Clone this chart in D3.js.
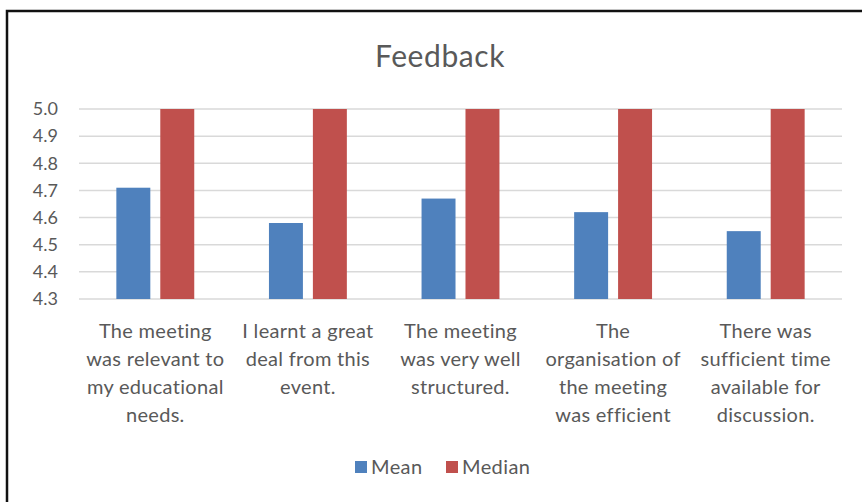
<!DOCTYPE html>
<html>
<head>
<meta charset="utf-8">
<script src="https://cdn.jsdelivr.net/npm/d3@7"></script>
<style>
  body { margin: 0; background: #fff; }
  text { font-family: Lato, "Open Sans", sans-serif; fill: #595959; }
</style>
</head>
<body>
<script>
var width = 862,
    height = 502;

var categories = [
    ["The meeting", "was relevant to", "my educational", "needs."],
    ["I learnt a great", "deal from this", "event."],
    ["The meeting", "was very well", "structured."],
    ["The", "organisation of", "the meeting", "was efficient"],
    ["There was", "sufficient time", "available for", "discussion."]
];
var meanValues = [4.71, 4.58, 4.67, 4.62, 4.55];
var medianValues = [5, 5, 5, 5, 5];
var seriesNames = ["Mean", "Median"];
var seriesColors = ["#4f81bd", "#c0504d"];
var yTicks = [4.3, 4.4, 4.5, 4.6, 4.7, 4.8, 4.9, 5.0];

var margin = {top: 109, right: 20, bottom: 203, left: 79};

var svg = d3.select("body").append("svg")
    .attr("width", width)
    .attr("height", height);

// outer frame (only top and left edges show)
svg.append("rect")
    .attr("x", 7).attr("y", 11)
    .attr("width", width + 20).attr("height", height + 20)
    .attr("fill", "none")
    .attr("stroke", "#111")
    .attr("stroke-width", 2.5);

var x0 = d3.scaleBand()
    .domain(d3.range(categories.length))
    .range([margin.left, width - margin.right]);

var x1 = d3.scaleBand()
    .domain(seriesNames)
    .range([0, x0.bandwidth()])
    .paddingInner(0.227)
    .paddingOuter(0.85);

var y = d3.scaleLinear()
    .domain([4.3, 5.0])
    .range([height - margin.bottom, margin.top]);

// gridlines
svg.append("g").selectAll("line")
    .data(yTicks)
    .enter().append("line")
    .attr("x1", margin.left)
    .attr("x2", width - margin.right)
    .attr("y1", function(d) { return y(d); })
    .attr("y2", function(d) { return y(d); })
    .attr("stroke", "#d9d9d9")
    .attr("stroke-width", 1.5);

// y tick labels
svg.append("g").selectAll("text")
    .data(yTicks)
    .enter().append("text")
    .attr("x", 58)
    .attr("y", function(d) { return y(d); })
    .attr("dy", "0.35em")
    .attr("text-anchor", "end")
    .style("font-size", "18px")
    .text(function(d) { return d.toFixed(1); });

// bars
var rows = categories.map(function(c, i) {
    return [
        {key: "Mean", i: i, value: meanValues[i]},
        {key: "Median", i: i, value: medianValues[i]}
    ];
});

var group = svg.append("g").selectAll("g")
    .data(rows)
    .enter().append("g")
    .attr("transform", function(d, i) { return "translate(" + x0(i) + ",0)"; });

group.selectAll("rect")
    .data(function(d) { return d; })
    .enter().append("rect")
    .attr("x", function(d) { return x1(d.key); })
    .attr("width", x1.bandwidth())
    .attr("y", function(d) { return y(d.value); })
    .attr("height", function(d) { return y(4.3) - y(d.value); })
    .attr("fill", function(d) { return seriesColors[seriesNames.indexOf(d.key)]; });

// category labels
var labels = svg.append("g").selectAll("text")
    .data(categories)
    .enter().append("text")
    .attr("x", function(d, i) { return x0(i) + x0.bandwidth() / 2; })
    .attr("y", 338)
    .attr("text-anchor", "middle")
    .style("font-size", "20px")
    .style("letter-spacing", "0.3px");

labels.selectAll("tspan")
    .data(function(d) { return d; })
    .enter().append("tspan")
    .attr("x", function() { return d3.select(this.parentNode).attr("x"); })
    .attr("dy", function(d, j) { return j === 0 ? 0 : 28; })
    .text(function(d) { return d; });

// title
svg.append("text")
    .attr("x", 440)
    .attr("y", 67)
    .attr("text-anchor", "middle")
    .style("font-size", "30px")
    .style("letter-spacing", "0.6px")
    .text("Feedback");

// legend
var legendX = [355, 446];
var legend = svg.append("g").selectAll("g")
    .data(seriesNames)
    .enter().append("g")
    .attr("transform", function(d, i) { return "translate(" + legendX[i] + ",461)"; });

legend.append("rect")
    .attr("width", 12).attr("height", 12)
    .attr("fill", function(d, i) { return seriesColors[i]; });

legend.append("text")
    .attr("x", 16)
    .attr("y", 6)
    .attr("dy", "0.35em")
    .style("font-size", "20px")
    .style("letter-spacing", "0.4px")
    .text(function(d) { return d; });
</script>
</body>
</html>
